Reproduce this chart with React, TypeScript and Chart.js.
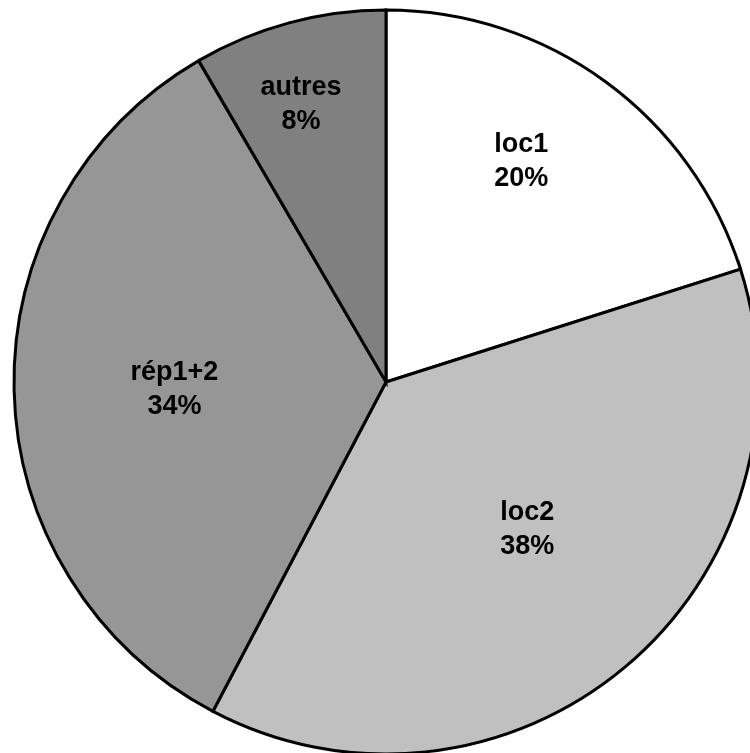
import React, { useEffect, useRef } from "react";
import { Chart, registerables } from "chart.js";

Chart.register(...registerables);

const categories = ["loc1", "loc2", "rép1+2", "autres"];
const shares = [20.1, 37.6, 33.9, 8.4];
const sliceColors = ["#FFFFFF", "#C0C0C0", "#969696", "#808080"];
// label placement: fraction of radius and angular nudge (degrees) from slice bisector
const labelRadius = [0.7, 0.545, 0.569, 0.786];
const labelAngleShift = [-4.9, -4.2, -0.2, -1.8];

const labelPlugin = {
  id: "sliceLabels",
  afterDatasetsDraw(chart: any) {
    const ctx = chart.ctx;
    const meta = chart.getDatasetMeta(0);
    const data = chart.data.datasets[0].data as number[];
    const total = data.reduce((a: number, b: number) => a + b, 0);
    ctx.save();
    ctx.fillStyle = "#000000";
    ctx.font = "bold 27px 'Liberation Sans', Arial, sans-serif";
    ctx.textAlign = "center";
    ctx.textBaseline = "alphabetic";
    meta.data.forEach((arc: any, i: number) => {
      const { x, y, startAngle, endAngle, outerRadius } = arc.getProps(
        ["x", "y", "startAngle", "endAngle", "outerRadius"],
        true
      );
      const mid = (startAngle + endAngle) / 2 + (labelAngleShift[i] * Math.PI) / 180;
      const r = outerRadius * labelRadius[i];
      const lx = x + Math.cos(mid) * r;
      const ly = y + Math.sin(mid) * r;
      const pct = Math.round((data[i] / total) * 100) + "%";
      const half = 17;
      const capHalf = 9.7;
      ctx.fillText(String(chart.data.labels[i]), lx, ly - half + capHalf);
      ctx.fillText(pct, lx, ly + half + capHalf);
    });
    ctx.restore();
  },
};

export default function App() {
  const ref = useRef<HTMLCanvasElement | null>(null);
  useEffect(() => {
    if (!ref.current) return;
    const chart = new Chart(ref.current, {
      type: "pie",
      data: {
        labels: categories,
        datasets: [
          {
            data: shares,
            backgroundColor: sliceColors,
            borderColor: "#000000",
            borderWidth: 3,
            borderJoinStyle: "miter",
            radius: 372,
          } as any,
        ],
      },
      options: {
        responsive: false,
        animation: false,
        events: [],
        layout: { padding: 0 },
        plugins: {
          legend: { display: false },
          title: { display: false },
          tooltip: { enabled: false },
        },
      },
      plugins: [labelPlugin],
    });
    return () => chart.destroy();
  }, []);
  return (
    <div
      style={{
        position: "absolute",
        left: 0,
        top: 0,
        width: 750,
        height: 753,
        overflow: "hidden",
        background: "#ffffff",
      }}
    >
      <canvas ref={ref} width={772} height={764} style={{ display: "block" }} />
    </div>
  );
}
